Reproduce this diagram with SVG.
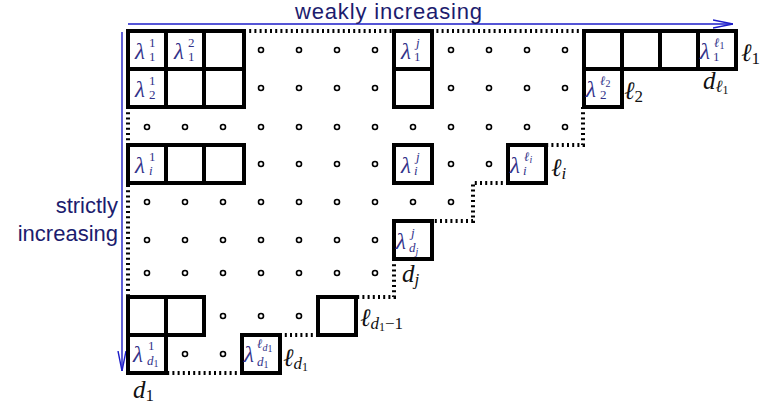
<svg xmlns="http://www.w3.org/2000/svg" width="762" height="410" viewBox="0 0 762 410">
<style>
.box{fill:#fff;stroke:#000;stroke-width:4}
.dot{fill:#fff;stroke:#000;stroke-width:1.6}
.dotted{fill:none;stroke:#000;stroke-width:4;stroke-dasharray:2 3.2}
.arr{fill:none;stroke:#1c1cc8;stroke-width:1.4}
.lam{font-family:"Liberation Serif","DejaVu Serif",serif;font-style:italic;fill:#33338a;font-size:23px}
.sc{font-family:"Liberation Serif","DejaVu Serif",serif;font-style:italic;fill:#33338a;font-size:13px}
.ssc{font-family:"Liberation Serif","DejaVu Serif",serif;font-style:italic;fill:#33338a;font-size:10px}
.m{font-family:"Liberation Serif","DejaVu Serif",serif;font-style:italic;fill:#111;font-size:25px}
.ms{font-family:"Liberation Serif","DejaVu Serif",serif;font-style:italic;fill:#111;font-size:17px}
.mss{font-family:"Liberation Serif","DejaVu Serif",serif;font-style:italic;fill:#111;font-size:12px}
.lbl{font-family:"Liberation Sans",Arial,sans-serif;fill:#1c1c6e;font-size:22px}
.up{font-style:normal}
</style>
<defs>
<marker id="ah" viewBox="0 0 20 10" refX="20" refY="5" markerWidth="20" markerHeight="10" orient="auto" markerUnits="userSpaceOnUse">
<path d="M0,1 L20,5 L0,9" fill="none" stroke="#1c1cc8" stroke-width="1.4"/>
</marker>
</defs>

<g id="axes">
<path class="arr" d="M128,24 H733" marker-end="url(#ah)"/>
<path class="arr" d="M122,32 V371" marker-end="url(#ah)"/>
<text class="lbl" x="295" y="19" textLength="187" lengthAdjust="spacing">weakly increasing</text>
<text class="lbl" x="118" y="213" text-anchor="end">strictly</text>
<text class="lbl" x="118" y="241" text-anchor="end">increasing</text>
</g>

<g id="connectors">
<path class="dotted" d="M244,31 H584"/>
<path class="dotted" d="M583,107 V145 H546"/>
<path class="dotted" d="M508,183 H473 V221 H432"/>
<path class="dotted" d="M394,259 V297 H356"/>
<path class="dotted" d="M318,335 H280"/>
<path class="dotted" d="M242,373 H166"/>
<path class="dotted" d="M128,107 V297"/>
</g>

<g id="dots">
<circle class="dot" cx="261" cy="50" r="2.5"/><circle class="dot" cx="299" cy="50" r="2.5"/><circle class="dot" cx="337" cy="50" r="2.5"/><circle class="dot" cx="375" cy="50" r="2.5"/>
<circle class="dot" cx="451" cy="50" r="2.5"/><circle class="dot" cx="489" cy="50" r="2.5"/><circle class="dot" cx="527" cy="50" r="2.5"/><circle class="dot" cx="565" cy="50" r="2.5"/>
<circle class="dot" cx="261" cy="88" r="2.5"/><circle class="dot" cx="299" cy="88" r="2.5"/><circle class="dot" cx="337" cy="88" r="2.5"/><circle class="dot" cx="375" cy="88" r="2.5"/>
<circle class="dot" cx="451" cy="88" r="2.5"/><circle class="dot" cx="489" cy="88" r="2.5"/><circle class="dot" cx="527" cy="88" r="2.5"/><circle class="dot" cx="565" cy="88" r="2.5"/>
<circle class="dot" cx="147" cy="127" r="2.5"/><circle class="dot" cx="185" cy="127" r="2.5"/><circle class="dot" cx="223" cy="127" r="2.5"/><circle class="dot" cx="261" cy="127" r="2.5"/><circle class="dot" cx="299" cy="127" r="2.5"/><circle class="dot" cx="337" cy="127" r="2.5"/><circle class="dot" cx="375" cy="127" r="2.5"/><circle class="dot" cx="413" cy="127" r="2.5"/><circle class="dot" cx="451" cy="127" r="2.5"/><circle class="dot" cx="489" cy="127" r="2.5"/><circle class="dot" cx="527" cy="127" r="2.5"/><circle class="dot" cx="565" cy="127" r="2.5"/>
<circle class="dot" cx="261" cy="164" r="2.5"/><circle class="dot" cx="299" cy="164" r="2.5"/><circle class="dot" cx="337" cy="164" r="2.5"/><circle class="dot" cx="375" cy="164" r="2.5"/><circle class="dot" cx="451" cy="164" r="2.5"/><circle class="dot" cx="489" cy="164" r="2.5"/>
<circle class="dot" cx="147" cy="202" r="2.5"/><circle class="dot" cx="185" cy="202" r="2.5"/><circle class="dot" cx="223" cy="202" r="2.5"/><circle class="dot" cx="261" cy="202" r="2.5"/><circle class="dot" cx="299" cy="202" r="2.5"/><circle class="dot" cx="337" cy="202" r="2.5"/><circle class="dot" cx="375" cy="202" r="2.5"/><circle class="dot" cx="413" cy="202" r="2.5"/><circle class="dot" cx="451" cy="202" r="2.5"/>
<circle class="dot" cx="147" cy="240" r="2.5"/><circle class="dot" cx="185" cy="240" r="2.5"/><circle class="dot" cx="223" cy="240" r="2.5"/><circle class="dot" cx="261" cy="240" r="2.5"/><circle class="dot" cx="299" cy="240" r="2.5"/><circle class="dot" cx="337" cy="240" r="2.5"/><circle class="dot" cx="375" cy="240" r="2.5"/>
<circle class="dot" cx="147" cy="273" r="2.5"/><circle class="dot" cx="185" cy="273" r="2.5"/><circle class="dot" cx="223" cy="273" r="2.5"/><circle class="dot" cx="261" cy="273" r="2.5"/><circle class="dot" cx="299" cy="273" r="2.5"/><circle class="dot" cx="337" cy="273" r="2.5"/><circle class="dot" cx="375" cy="273" r="2.5"/>
<circle class="dot" cx="223" cy="316" r="2.5"/><circle class="dot" cx="261" cy="316" r="2.5"/><circle class="dot" cx="299" cy="316" r="2.5"/>
<circle class="dot" cx="185" cy="354" r="2.5"/><circle class="dot" cx="223" cy="354" r="2.5"/>
</g>

<g id="box-r0c0"><rect class="box" x="128" y="31" width="38" height="38"/>
<text class="lam" x="135" y="59">λ</text><text class="sc up" x="149" y="47">1</text><text class="sc up" x="149" y="61">1</text></g>
<g id="box-r0c1"><rect class="box" x="166" y="31" width="38" height="38"/>
<text class="lam" x="174" y="59">λ</text><text class="sc up" x="188" y="47">2</text><text class="sc up" x="188" y="61">1</text></g>
<g id="box-r0c2"><rect class="box" x="204" y="31" width="40" height="38"/></g>
<g id="box-r0c7"><rect class="box" x="394" y="31" width="38" height="38"/>
<text class="lam" x="401" y="59">λ</text><text class="sc" x="416" y="47">j</text><text class="sc up" x="414" y="61">1</text></g>
<g id="box-r0c12"><rect class="box" x="584" y="31" width="38" height="38"/></g>
<g id="box-r0c13"><rect class="box" x="622" y="31" width="38" height="38"/></g>
<g id="box-r0c14"><rect class="box" x="660" y="31" width="38" height="38"/></g>
<g id="box-r0c15"><rect class="box" x="698" y="31" width="38" height="38"/>
<text class="lam" x="700" y="59">λ</text><text class="sc" x="714" y="47">ℓ<tspan class="ssc up" dy="2">1</tspan></text><text class="sc up" x="713" y="61">1</text></g>

<g id="box-r1c0"><rect class="box" x="128" y="69" width="38" height="38"/>
<text class="lam" x="135" y="97">λ</text><text class="sc up" x="149" y="85">1</text><text class="sc up" x="149" y="99">2</text></g>
<g id="box-r1c1"><rect class="box" x="166" y="69" width="38" height="38"/></g>
<g id="box-r1c2"><rect class="box" x="204" y="69" width="40" height="38"/></g>
<g id="box-r1c7"><rect class="box" x="394" y="69" width="38" height="38"/></g>
<g id="box-r1c12"><rect class="box" x="584" y="69" width="38" height="38"/>
<text class="lam" x="586" y="97">λ</text><text class="sc" x="600" y="85">ℓ<tspan class="ssc up" dy="2">2</tspan></text><text class="sc up" x="600" y="99">2</text></g>

<g id="box-r3c0"><rect class="box" x="128" y="145" width="38" height="38"/>
<text class="lam" x="135" y="173">λ</text><text class="sc up" x="149" y="161">1</text><text class="sc" x="149" y="175">i</text></g>
<g id="box-r3c1"><rect class="box" x="166" y="145" width="38" height="38"/></g>
<g id="box-r3c2"><rect class="box" x="204" y="145" width="40" height="38"/></g>
<g id="box-r3c7"><rect class="box" x="394" y="145" width="38" height="38"/>
<text class="lam" x="401" y="173">λ</text><text class="sc" x="416" y="161">j</text><text class="sc" x="414" y="175">i</text></g>
<g id="box-r3c10"><rect class="box" x="508" y="145" width="38" height="38"/>
<text class="lam" x="510" y="173">λ</text><text class="sc" x="524" y="161">ℓ<tspan class="ssc" dy="2">i</tspan></text><text class="sc" x="523" y="175">i</text></g>

<g id="box-r5c7"><rect class="box" x="394" y="221" width="38" height="38"/>
<text class="lam" x="396" y="249">λ</text><text class="sc" x="411" y="237">j</text><text class="sc" x="409" y="252">d<tspan class="ssc" dy="3">j</tspan></text></g>

<g id="box-r7c0"><rect class="box" x="128" y="297" width="38" height="38"/></g>
<g id="box-r7c1"><rect class="box" x="166" y="297" width="38" height="38"/></g>
<g id="box-r7c5"><rect class="box" x="318" y="297" width="38" height="38"/></g>

<g id="box-r8c0"><rect class="box" x="128" y="335" width="38" height="38"/>
<text class="lam" x="133" y="362">λ</text><text class="sc up" x="148" y="350">1</text><text class="sc" x="147" y="365">d<tspan class="ssc up" dy="2">1</tspan></text></g>
<g id="box-r8c3"><rect class="box" x="242" y="335" width="38" height="38"/>
<text class="lam" x="244" y="362">λ</text><text class="sc" x="257" y="348">ℓ<tspan class="ssc" dy="3">d</tspan><tspan class="ssc up" font-size="7" dy="1">1</tspan></text><text class="sc" x="257" y="366">d<tspan class="ssc up" dy="2">1</tspan></text></g>

<g id="labels">
<text class="m" x="741" y="61">ℓ<tspan class="ms up" dy="3">1</tspan></text>
<text class="m" x="703" y="89">d<tspan class="ms" dy="3">ℓ</tspan><tspan class="mss up" dy="2">1</tspan></text>
<text class="m" x="624" y="99">ℓ<tspan class="ms up" dy="3">2</tspan></text>
<text class="m" x="551" y="176">ℓ<tspan class="ms" dy="3">i</tspan></text>
<text class="m" x="402" y="282">d<tspan class="ms" dy="3">j</tspan></text>
<text class="m" x="360" y="326">ℓ<tspan class="ms" dy="3">d</tspan><tspan class="mss up" dy="2">1</tspan><tspan class="ms up" dy="-2">−1</tspan></text>
<text class="m" x="283" y="366">ℓ<tspan class="ms" dy="3">d</tspan><tspan class="mss up" dy="2">1</tspan></text>
<text class="m" x="133" y="398">d<tspan class="ms up" dy="3">1</tspan></text>
</g>
</svg>
